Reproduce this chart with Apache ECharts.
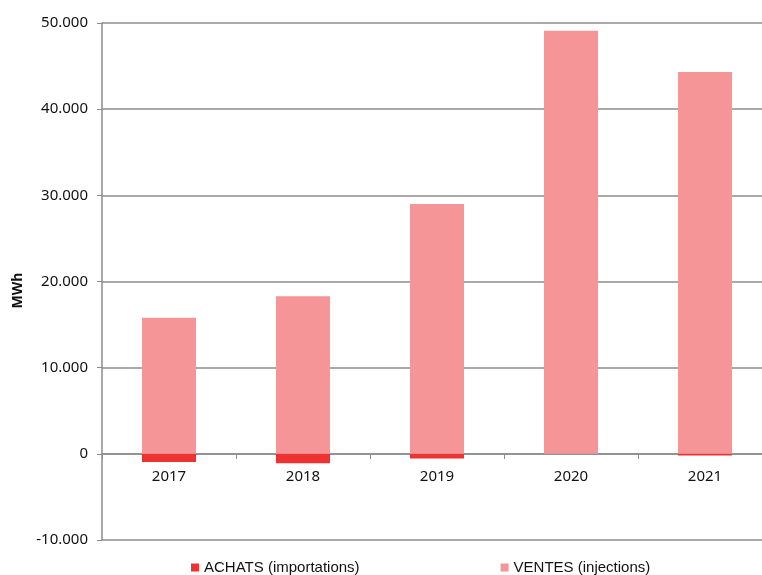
<!DOCTYPE html>
<html>
<head>
<meta charset="utf-8">
<script src="https://cdn.jsdelivr.net/npm/echarts@6/dist/echarts.min.js"></script>
<style>
html,body{margin:0;padding:0;background:#fff;}
#chart{width:762px;height:575px;}
</style>
</head>
<body>
<div id="chart"></div>
<script>
// data (MWh)
var years = ['2017', '2018', '2019', '2020', '2021'];
var achats = [-950, -1100, -550, 0, -200];
var ventes = [15800, 18300, 29000, 49100, 44300];
var yTicks = [-10000, 0, 10000, 20000, 30000, 40000, 50000];

function fmt(v){
    // 10000 -> 10.000
    var s = Math.abs(v).toString().replace(/\B(?=(\d{3})+(?!\d))/g, '.');
    return (v < 0 ? '-' : '') + s;
}

var myChart = echarts.init(document.getElementById('chart'));
var option = {
    animation: false,
    grid: {
        left: 102,
        right: -10,
        top: 23,
        bottom: 35,
        outerBoundsMode: 'none'
    },
    legend: {
        bottom: -5,
        left: 186,
        itemGap: 141,
        itemWidth: 8,
        itemHeight: 8,
        icon: 'rect',
        textStyle: {
            fontFamily: 'Liberation Sans',
            fontSize: 15,
            color: '#111'
        },
        data: ['ACHATS (importations)', 'VENTES (injections)']
    },
    xAxis: {
        type: 'category',
        data: years,
        // put the axis on the zero line (one tick step up from the bottom)
        offset: -86,
        axisLine: { onZero: false, lineStyle: { color: '#8c8c8c', width: 1.5 } },
        axisTick: { show: true, length: 5, lineStyle: { color: '#8c8c8c' } },
        axisLabel: {
            fontFamily: 'Noto Sans',
            fontSize: 15,
            color: '#111',
            margin: 15
        }
    },
    yAxis: {
        type: 'value',
        min: yTicks[0],
        max: yTicks[yTicks.length - 1],
        interval: 10000,
        name: 'MWh',
        nameLocation: 'middle',
        nameGap: 76,
        nameTextStyle: {
            fontFamily: 'Noto Sans',
            fontSize: 14,
            fontWeight: 'bold',
            color: '#111',
            padding: [0, 18, 0, 0]
        },
        axisLine: { show: true, lineStyle: { color: '#8c8c8c', width: 1.5 } },
        axisTick: { show: true, length: 5, lineStyle: { color: '#8c8c8c' } },
        axisLabel: {
            fontFamily: 'Noto Sans',
            fontSize: 15,
            color: '#111',
            margin: 14,
            formatter: fmt
        },
        splitLine: { show: true, lineStyle: { color: '#8c8c8c', width: 1.5 } }
    },
    series: [
        {
            name: 'ACHATS (importations)',
            type: 'bar',
            stack: 'total',
            barWidth: 54,
            itemStyle: { color: '#ee3232' },
            data: achats
        },
        {
            name: 'VENTES (injections)',
            type: 'bar',
            stack: 'total',
            barWidth: 54,
            itemStyle: { color: '#f69597' },
            data: ventes
        }
    ]
};
myChart.setOption(option);
</script>
</body>
</html>
